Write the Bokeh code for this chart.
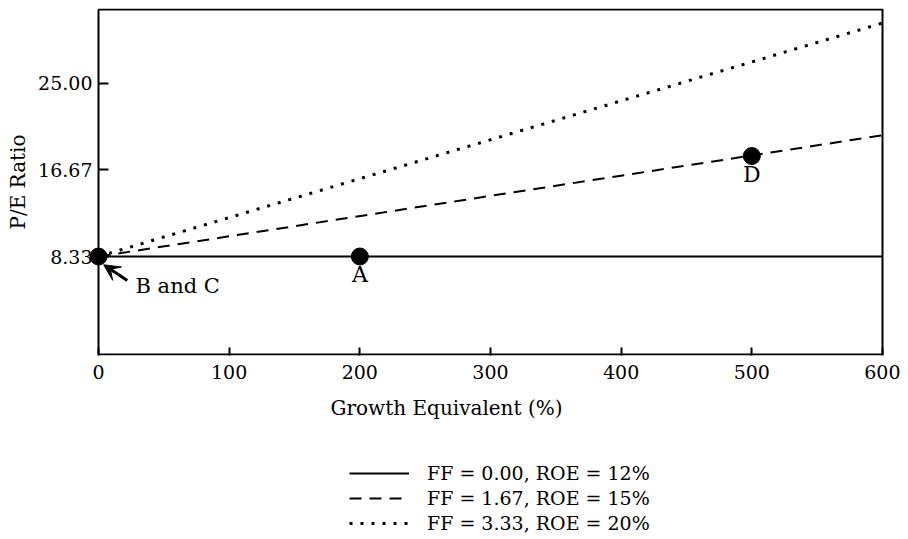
from bokeh.plotting import figure
from bokeh.models import (Range1d, FixedTicker, PrintfTickFormatter, Legend, LegendItem,
                          Arrow, VeeHead, ColumnDataSource, BoxAnnotation)
from bokeh.layouts import column
from bokeh.embed import file_html
from bokeh.resources import INLINE
from bokeh.core.properties import value

# ---- data ----
growth = [0, 600]
pe_ff000 = [8.33, 8.33]
pe_ff167 = [8.33, 20.0]
pe_ff333 = [8.33, 30.8]

pt_x = [200, 500]
pt_y = [8.33, 18.0]
pt_lbl = ["A", "D"]
bc_x = [0]
bc_y = [8.33]
bc_lbl = ["B and C"]

x_ticks = [0, 100, 200, 300, 400, 500, 600]
y_ticks = [8.33, 16.67, 25.00]
x_lim = (0, 600)
y_lim = (-1.1, 32.1)

legend_labels = ["FF = 0.00, ROE = 12%", "FF = 1.67, ROE = 15%", "FF = 3.33, ROE = 20%"]

FONT = "DejaVu Serif"
FS = "19px"

# frame extends a little beyond the data box so that the marker at x=0 is not cut
PX_PER_X = 784 / 600.0
PX_PER_Y = 10.4
left_pad_px, right_pad_px, v_pad_px = 90, 2, 1
xr = Range1d(x_lim[0] - left_pad_px / PX_PER_X, x_lim[1] + right_pad_px / PX_PER_X)
yr = Range1d(y_lim[0] - v_pad_px / PX_PER_Y, y_lim[1] + v_pad_px / PX_PER_Y)

p = figure(frame_width=784 + left_pad_px + right_pad_px, frame_height=345 + 2 * v_pad_px,
           min_border_left=8, min_border_right=16, min_border_top=8, min_border_bottom=79,
           x_range=xr, y_range=yr, output_backend="svg", toolbar_location=None)
p.grid.visible = False
p.background_fill_color = "white"
p.border_fill_color = "white"
p.outline_line_color = None

p.add_layout(BoxAnnotation(left=x_lim[0], right=x_lim[1], bottom=y_lim[0], top=y_lim[1],
                           fill_alpha=0, line_color="black", line_width=2, line_alpha=1))

for ax in (p.xaxis[0], p.yaxis[0]):
    ax.axis_line_color = None
    ax.major_tick_line_width = 2
    ax.major_tick_out = 0
    ax.minor_tick_in = 0
    ax.minor_tick_out = 0
    ax.major_label_text_font = FONT
    ax.major_label_text_font_size = FS
    ax.major_label_text_color = "black"
    ax.axis_label_text_font = FONT
    ax.axis_label_text_font_size = "20px"
    ax.axis_label_text_font_style = "normal"
    ax.axis_label_text_color = "black"

p.xaxis.ticker = FixedTicker(ticks=x_ticks)
p.xaxis.major_tick_in = 8
p.xaxis.major_label_standoff = 9
p.xaxis.axis_label = "Growth Equivalent (%)"
p.xaxis.axis_label_standoff = 14

p.yaxis.fixed_location = 0
p.yaxis.ticker = FixedTicker(ticks=y_ticks)
p.yaxis.formatter = PrintfTickFormatter(format="%.2f")
p.yaxis.major_tick_in = 10
p.yaxis.major_label_standoff = 6
p.yaxis.axis_label = "P/E Ratio"
p.yaxis.axis_label_standoff = 5

line_styles = [dict(line_color="black", line_width=2),
               dict(line_color="black", line_width=2, line_dash="12 8"),
               dict(line_color="black", line_width=3, line_dash="3 8")]
series = [pe_ff000, pe_ff167, pe_ff333]

for ys, st in zip(series, line_styles):
    p.line(growth, ys, **st)

p.scatter(bc_x + pt_x, bc_y + pt_y, size=17, marker="circle", color="black")

src = ColumnDataSource(dict(x=pt_x, y=pt_y, t=pt_lbl))
p.text("x", "y", text="t", source=src, text_align="center", text_baseline="middle",
       y_offset=18, text_font=value(FONT), text_font_size="22px", text_color="black")
p.text(bc_x, bc_y, text=bc_lbl, text_align="left", text_baseline="middle",
       x_offset=37, y_offset=29, text_font=value(FONT), text_font_size="21px", text_color="black")

p.add_layout(Arrow(x_start=bc_x[0] + 22, y_start=bc_y[0] - 2.3,
                   x_end=bc_x[0] + 4.0, y_end=bc_y[0] - 0.8,
                   line_width=3, line_color="black",
                   end=VeeHead(size=16, fill_color="black", line_color="black", line_width=1)))

# ---- legend panel below the chart (same series, drawn outside the visible range) ----
p2 = figure(width=784 + left_pad_px + right_pad_px + 8 + 16, height=104,
            x_range=Range1d(-20, -10), y_range=Range1d(-20, -10),
            x_axis_type=None, y_axis_type=None, min_border=0,
            output_backend="svg", toolbar_location=None)
p2.grid.visible = False
p2.outline_line_color = None
legend_renderers = [p2.line(growth, ys, **st) for ys, st in zip(series, line_styles)]

legend = Legend(items=[LegendItem(label=lbl, renderers=[r])
                       for lbl, r in zip(legend_labels, legend_renderers)],
                location=(341, 4), orientation="vertical",
                border_line_color=None, background_fill_alpha=0,
                label_text_font=FONT, label_text_font_size=FS, label_text_color="black",
                glyph_width=60, glyph_height=20, label_height=20, spacing=3,
                padding=0, margin=0, label_standoff=18)
p2.add_layout(legend, "center")

layout = column(p, p2, spacing=0)
open("out.html", "w").write(file_html(layout, INLINE))
